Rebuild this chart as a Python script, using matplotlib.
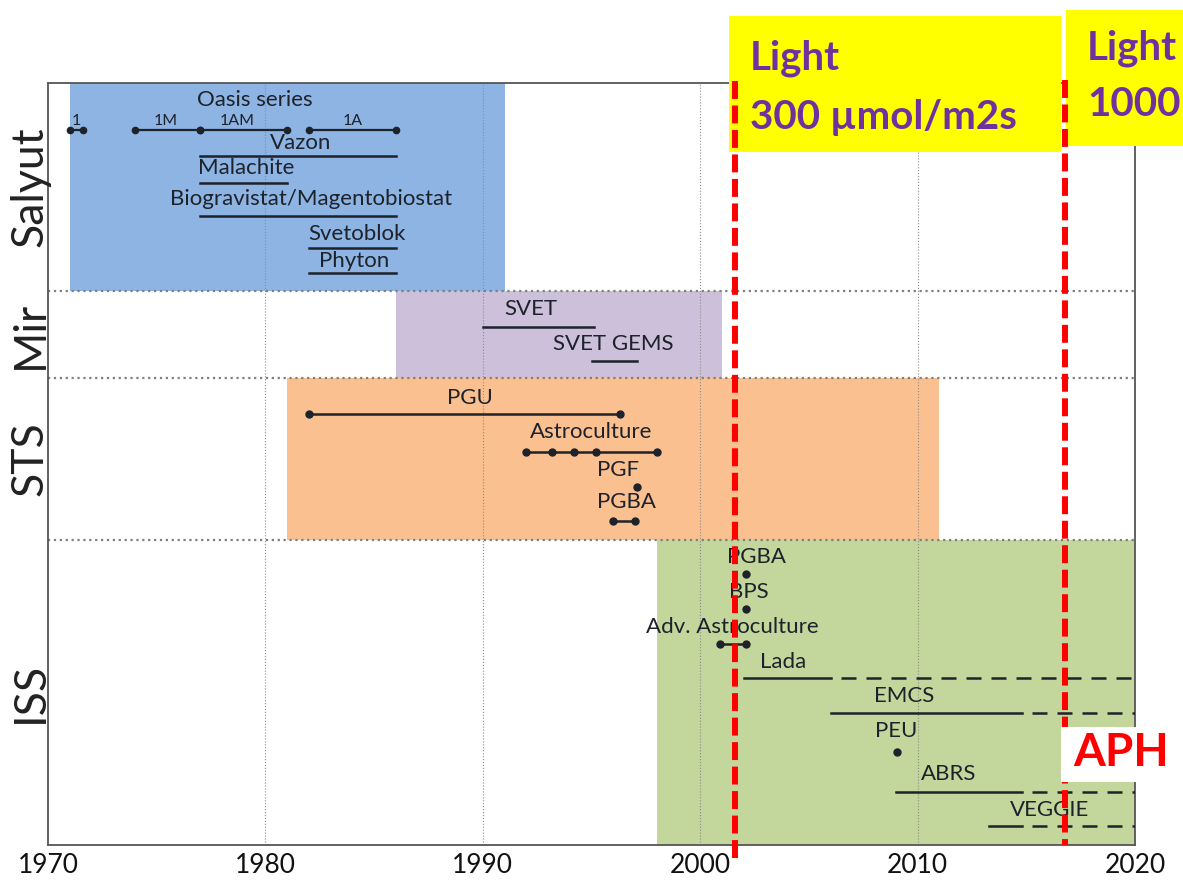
import matplotlib.pyplot as plt
from matplotlib.patches import Rectangle
from matplotlib.lines import Line2D
import matplotlib.transforms as mtransforms

plt.rcParams['font.family'] = ['Lato', 'DejaVu Sans']

# stations (bands); rows measured from the top of the plot
sections = ['Salyut', 'Mir', 'STS', 'ISS']
section_start = [1971, 1986, 1981, 1998]
section_end = [1991, 2001, 2011, 2020]
section_top = [0, 208, 295, 457]
section_bottom = [208, 295, 457, 762]
section_colors = ['#8db4e2', '#ccc0da', '#fac090', '#c3d69b']

# Oasis series
oasis_sub = ['1', '1M', '1AM', '1A']
oasis_start = [1971.0, 1974.0, 1977.0, 1982.0]
oasis_end = [1971.6, 1977.0, 1981.0, 1986.0]
oasis_label_x = [1971.3, 1975.4, 1978.7, 1984.0]
oasis_row = 47

# other hardware
names = ['Vazon', 'Malachite', 'Biogravistat/Magentobiostat', 'Svetoblok', 'Phyton',
         'SVET', 'SVET GEMS',
         'PGU', 'Astroculture', 'PGF', 'PGBA',
         'PGBA', 'BPS', 'Adv. Astroculture', 'Lada', 'EMCS', 'PEU', 'ABRS', 'VEGGIE']
label_x = [1981.6, 1979.1, 1982.1, 1984.2, 1984.1,
           1992.2, 1996.0,
           1989.4, 1995.0, 1996.2, 1996.6,
           2002.6, 2002.25, 2001.5, 2003.8, 2009.4, 2009.0, 2011.45, 2016.05]
label_row = [60, 85, 116, 151, 178,
             226, 261,
             315, 349, 387, 419,
             474, 509, 544, 579, 613, 648, 691, 727]
line_row = [73, 100, 133, 165, 190,
            244, 278,
            331, 369, 404, 438,
            491, 526, 561, 595, 630, 669, 709, 743]
start = [1977, 1977, 1977, 1982, 1982,
         1990, 1995,
         1982, 1992, 1997.1, 1996,
         2002.1, 2002.1, 2000.9, 2002.0, 2006.0, 2009.05, 2009.0, 2013.3]
end = [1986, 1981, 1986, 1986, 1986,
       1995.1, 1997.1,
       1996.3, 1998, 1997.1, 1997,
       2002.1, 2002.1, 2002.1, 2006.0, 2014.8, 2009.05, 2014.8, 2014.8]
dots = [[], [], [], [], [],
        [], [],
        [1982, 1996.3], [1992, 1993.2, 1994.2, 1995.2, 1998], [1997.1], [1996, 1997],
        [2002.1], [2002.1], [2000.9, 2002.1], [], [], [2009.05], [], []]
ongoing = [False] * 14 + [True, True, False, True, True]

light_years = [2001.6, 2016.8]

fig = plt.figure(figsize=(11.83, 8.82), dpi=100)
ax = fig.add_axes([48 / 1183, 1 - 845 / 882, 1087 / 1183, 762 / 882])
ax.set_xlim(1970, 2020)
ax.set_ylim(762, 0)

ink = '#1d222b'
for i in range(len(sections)):
    ax.add_patch(Rectangle((section_start[i], section_top[i]),
                           section_end[i] - section_start[i],
                           section_bottom[i] - section_top[i],
                           facecolor=section_colors[i], edgecolor='none', zorder=0))
    ax.text(-0.0166, (section_top[i] + section_bottom[i]) / 2, sections[i],
            transform=mtransforms.blended_transform_factory(ax.transAxes, ax.transData),
            rotation=90, ha='center', va='center', fontsize=32, color='#222222')
    if i > 0:
        ax.axhline(section_top[i], color='#7f7f7f', lw=1.6, ls=':', zorder=1)

for yr in [1980, 1990, 2000, 2010]:
    ax.axvline(yr, color='#8c8c8c', lw=0.8, ls=':', zorder=1)

# Oasis
ax.text(1979.5, 17, 'Oasis series', ha='center', va='center', fontsize=16, color=ink)
for s, e, lab, lx in zip(oasis_start, oasis_end, oasis_sub, oasis_label_x):
    ax.plot([s, e], [oasis_row, oasis_row], color=ink, lw=1.6, marker='o', ms=4.5, zorder=3)
    ax.text(lx, oasis_row - 9, lab, ha='center', va='center', fontsize=11.5, color=ink)

for i in range(len(names)):
    ax.text(label_x[i], label_row[i], names[i], ha='center', va='center', fontsize=16, color=ink, zorder=4)
    if end[i] > start[i]:
        ax.plot([start[i], end[i]], [line_row[i], line_row[i]], color=ink, lw=1.8, zorder=3)
    if dots[i]:
        ax.plot(dots[i], [line_row[i]] * len(dots[i]), 'o', color=ink, ms=5, zorder=3)
    if ongoing[i]:
        ax.plot([end[i], 2020], [line_row[i], line_row[i]], color=ink, lw=1.8,
                ls=(6, (6, 4)), zorder=3)

ax.set_xticks([1970, 1980, 1990, 2000, 2010, 2020])
ax.set_yticks([])
ax.tick_params(axis='x', length=0, pad=6, labelsize=19, labelcolor='#111111')
for sp in ax.spines.values():
    sp.set_color('#555555')
    sp.set_linewidth(1.3)

# annotation boxes
fig.add_artist(Rectangle((729 / 1183, 1 - 152 / 882), 332 / 1183, 136 / 882,
                         transform=fig.transFigure, facecolor='#ffff00', edgecolor='none', zorder=5))
fig.add_artist(Rectangle((1066 / 1183, 1 - 146 / 882), 117 / 1183, 136 / 882,
                         transform=fig.transFigure, facecolor='#ffff00', edgecolor='none', zorder=5))

# red dashed lines, above the yellow boxes
fig.add_artist(Line2D([light_years[0]] * 2, [-2, 779], transform=ax.transData,
                      color='#ff0000', lw=4.3, ls=(0, (3.0, 1.1)), zorder=6))
fig.add_artist(Line2D([light_years[1]] * 2, [-3, 762], transform=ax.transData,
                      color='#ff0000', lw=4.3, ls=(0, (3.0, 1.1)), zorder=6))

fig.add_artist(Rectangle((1061 / 1183, 1 - 782 / 882), 122 / 1183, 55 / 882,
                         transform=fig.transFigure, facecolor='white', edgecolor='none', zorder=6.5))
purple = '#7030a0'
fig.text(750 / 1183, 1 - 58 / 882, 'Light', fontsize=29, fontweight='bold', color=purple,
         va='center', zorder=7)
fig.text(750 / 1183, 1 - 117 / 882, '300 µmol/m2s', fontsize=29, fontweight='bold', color=purple,
         va='center', zorder=7)
fig.text(1087 / 1183, 1 - 48 / 882, 'Light', fontsize=29, fontweight='bold', color=purple,
         va='center', zorder=7)
fig.text(1087 / 1183, 1 - 105 / 882, '1000', fontsize=29, fontweight='bold', color=purple,
         va='center', zorder=7)
fig.text(1073 / 1183, 1 - 753 / 882, 'APH', fontsize=33, fontweight='bold', color='#ff0000',
         va='center', zorder=7)

fig.savefig('out.png', dpi=100)
